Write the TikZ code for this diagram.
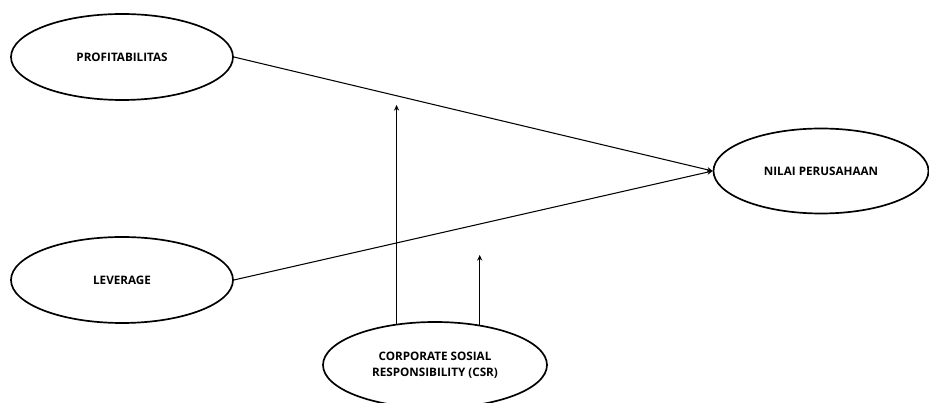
\documentclass[tikz,border=0pt]{standalone}
\usepackage{fontspec}
\setmainfont{Open Sans}
\usepackage{tikz}
\usetikzlibrary{positioning,arrows.meta,shapes.geometric}

\begin{document}
\begin{tikzpicture}[
  font=\fontsize{8.3}{10}\selectfont\bfseries, >={Stealth[length=1.4mm,width=1.3mm]},
  var/.style={draw, ellipse, line width=1.2pt, minimum width=5.55cm,
              minimum height=2.15cm, align=center, inner sep=0pt},
  path/.style={->, line width=0.75pt},
]
\useasboundingbox (0,0) rectangle (23.225,10.075);

\node[var] (prof)  at (3.05,8.65)   {PROFITABILITAS};
\node[var] (lev)   at (3.05,3.075)  {LEVERAGE};
\node[var, minimum width=5.375cm, minimum height=2.125cm] (nilai) at (20.525,5.8) {NILAI PERUSAHAAN};
\node[var, minimum width=5.6cm] (csr) at (10.875,0.95) {CORPORATE SOSIAL\\[1pt]RESPONSIBILITY (CSR)};

% moderasi
\coordinate (mod1) at (9.925,7.45);
\coordinate (mod2) at (11.975,3.7);

\draw[path] (prof.east) -- (nilai.west);
\draw[path] (lev.east) -- (nilai.west);
\draw[path] (csr.133) -- (csr.133 |- mod1);
\draw[path] (csr.42) -- (csr.42 |- mod2);
\end{tikzpicture}
\end{document}
